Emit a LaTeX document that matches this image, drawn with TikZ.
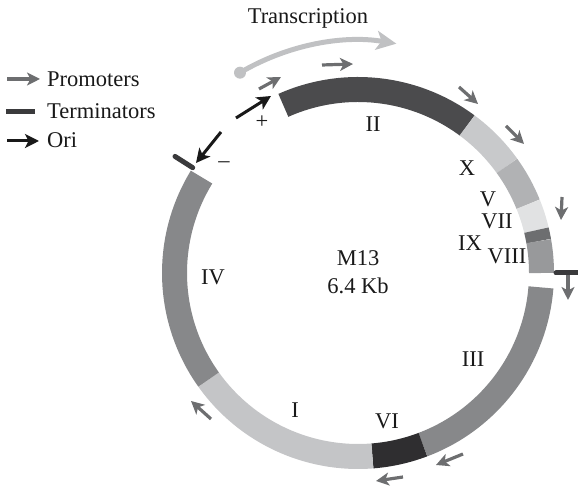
\documentclass[tikz,border=0pt]{standalone}
\usepackage{fontspec}
\setmainfont{Liberation Serif}
\usetikzlibrary{arrows.meta,calc}
\definecolor{cII}{HTML}{4B4B4D}
\definecolor{cX}{HTML}{C8C9CB}
\definecolor{cV}{HTML}{B1B2B4}
\definecolor{cVII}{HTML}{E1E2E3}
\definecolor{cIX}{HTML}{6D6E70}
\definecolor{cVIII}{HTML}{98999B}
\definecolor{cIII}{HTML}{87888A}
\definecolor{cVI}{HTML}{2F2E30}
\definecolor{cI}{HTML}{C4C5C7}
\definecolor{cIV}{HTML}{87888A}
\definecolor{promgray}{HTML}{6D6E70}
\definecolor{trgray}{HTML}{C0C1C3}
\definecolor{termcol}{HTML}{3A3A3C}
\newcommand{\ringseg}[3]{\draw[line width=25pt,#3] ($(C)+(#1:183.5pt)$) arc[start angle=#1,end angle=#2,radius=183.5pt];}
\newcommand{\parrow}[3]{\coordinate (#1a) at (#2); \coordinate (#1b) at (#3); \draw[prom] (#1a) -- (#1b);}
\begin{document}
\begin{tikzpicture}[x=1pt,y=1pt,
  lbl/.style={inner sep=0pt,text=black!90,font=\fontsize{22.5}{26}\selectfont},
  prom/.style={draw=promgray,line width=3.2pt,-{Stealth[length=13pt,width=13pt,inset=3.5pt]}},
  oriarrow/.style={draw=black!90,line width=3pt,-{Stealth[length=14pt,width=14pt,inset=3.5pt]}},
  term/.style={draw=termcol,line width=5pt,line cap=round}]
\useasboundingbox (0,0) rectangle (578,486);
\coordinate (C) at (358,213);
% ring segments
\ringseg{53.5}{114}{cII}
\ringseg{35.7}{53.5}{cX}
\ringseg{22}{35.7}{cV}
\ringseg{13.5}{22}{cVII}
\ringseg{10}{13.5}{cIX}
\ringseg{0}{10}{cVIII}
\ringseg{-69.3}{-4.5}{cIII}
\ringseg{-85.5}{-69.3}{cVI}
\ringseg{-144.5}{-85.5}{cI}
\ringseg{148.5}{215.5}{cIV}
% terminators
\coordinate (t1a) at ($(C)+(147.5:196pt)$);
\coordinate (t1b) at ($(C)+(147.5:217pt)$);
\draw[term] (t1a) -- (t1b);
\coordinate (t2a) at ($(C)+(0:198pt)$);
\coordinate (t2b) at ($(C)+(0:220pt)$);
\draw[term] (t2a) -- (t2b);
% promoters
\parrow{p1}{259,397}{281,409}
\parrow{p2}{322,421}{353,422}
\parrow{p3}{459,399}{478,382}
\parrow{p4}{506,360}{524,342}
\parrow{p5}{562,289}{561,266}
\parrow{p6}{568,211}{568,186}
\parrow{p7}{463,32}{436,21}
\parrow{p8}{403,9}{376,5}
\parrow{p9}{211,67}{191,85}
% ori
\coordinate (o1a) at (236,368); \coordinate (o1b) at (271,390);
\draw[oriarrow] (o1a) -- (o1b);
\coordinate (o2a) at (221,354); \coordinate (o2b) at (196,323);
\draw[oriarrow] (o2a) -- (o2b);
\node[lbl] (plus) at (262,364) {+};
\node[lbl] (minus) at (224,321) {\char"2013};
% transcription
\coordinate (trs) at ($(C)+(120.5:232.5pt)$);
\draw[trgray,line width=5pt,-{Stealth[length=20pt,width=19pt,inset=5pt]}] (trs) arc[start angle=120.5,end angle=80.5,radius=232.5pt];
\fill[trgray] (trs) circle[radius=6pt];
\node[lbl,anchor=base] (trans) at (308,462) {Transcription};
% labels
\node[lbl] (lII) at (373,362) {II};
\node[lbl] (lX) at (467,318) {X};
\node[lbl] (lV) at (488,287) {V};
\node[lbl] (lVII) at (497,265) {VII};
\node[lbl] (lIX) at (470,243) {IX};
\node[lbl] (lVIII) at (507,230) {VIII};
\node[lbl] (lIV) at (213,209) {IV};
\node[lbl] (lIII) at (473,127) {III};
\node[lbl] (lI) at (295,76) {I};
\node[lbl] (lVI) at (387,65) {VI};
\node[lbl] (m13) at (358,228) {M13};
\node[lbl] (kb) at (358,200) {6.4 Kb};
% legend
\coordinate (lg1a) at (7,407); \coordinate (lg1b) at (40,407);
\draw[prom] (lg1a) -- (lg1b);
\coordinate (lg2a) at (6,374); \coordinate (lg2b) at (35,374);
\draw[draw=termcol,line width=5pt] (lg2a) -- (lg2b);
\coordinate (lg3a) at (7,345); \coordinate (lg3b) at (39,345);
\draw[oriarrow] (lg3a) -- (lg3b);
\node[lbl,anchor=base west] (leg1) at (47,399) {Promoters};
\node[lbl,anchor=base west] (leg2) at (47,367) {Terminators};
\node[lbl,anchor=base west] (leg3) at (47,338) {Ori};
\end{tikzpicture}
\end{document}
